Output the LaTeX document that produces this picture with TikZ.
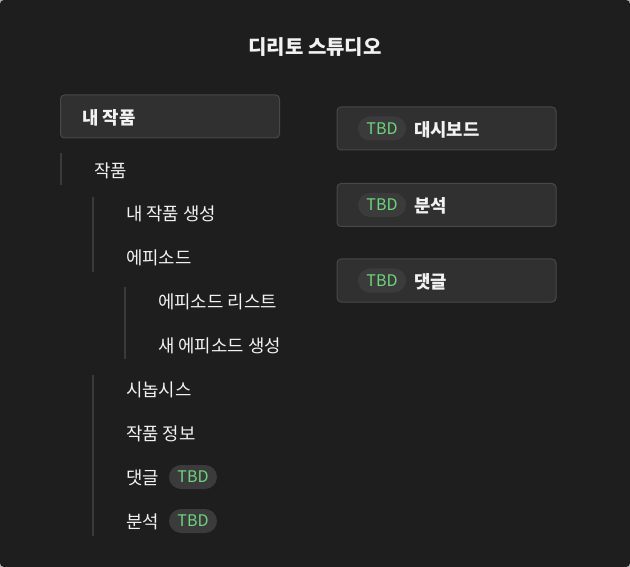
\documentclass[tikz,border=0pt]{standalone}
\usepackage{fontspec}
\setmainfont{Noto Sans CJK KR}
\definecolor{bgdark}{HTML}{1E1E1E}
\definecolor{boxfill}{HTML}{303030}
\definecolor{boxline}{HTML}{484848}
\definecolor{pillfill}{HTML}{3B3B3B}
\definecolor{tbdgreen}{HTML}{6CD67C}
\definecolor{treeline}{HTML}{3A3A3A}
\definecolor{textwhite}{HTML}{F2F2F2}

\begin{document}
\begin{tikzpicture}[x=1pt, y=-1pt,
    menubox/.style={draw=boxline, fill=boxfill, rounded corners=4pt, line width=1pt, minimum height=43pt},
    item/.style={anchor=west, text=textwhite, inner sep=0pt, font=\fontsize{17.8}{18}\selectfont},
    headitem/.style={item, font=\fontsize{17.8}{18}\selectfont\bfseries},
    tbd/.style={fill=pillfill, rounded corners=12pt, minimum width=48pt, minimum height=24pt, inner sep=0pt, text=tbdgreen, font=\fontsize{16}{16}\selectfont},
    guide/.style={draw=treeline, line width=1.3pt}]
    \useasboundingbox (0,0) rectangle (630,567);
    \fill[gray!60] (0,0) rectangle (630,567);
    \fill[bgdark, rounded corners=4pt] (0,0) rectangle (630,567);
    % title
    \node[text=textwhite, font=\fontsize{20}{20}\selectfont\bfseries] (title) at (315,47.5) {디리토 스튜디오};
    % left menu
    \node[menubox, minimum width=219pt] (mywork) at (170,116.5) {};
    \node[headitem] (myworktxt) at (82,117.5) {내 작품};
    \draw[guide] (61,153) -- (61,185);
    \node[item] (works) at (94,170.5) {작품};
    \draw[guide] (93,197) -- (93,272);
    \node[item] (newwork) at (126,214) {내 작품 생성};
    \node[item] (episode) at (126,258) {에피소드};
    \draw[guide] (125,287) -- (125,359);
    \node[item] (eplist) at (158,302) {에피소드 리스트};
    \node[item] (epnew) at (158,346) {새 에피소드 생성};
    \draw[guide] (93,375) -- (93,536);
    \node[item] (synopsis) at (126,390) {시놉시스};
    \node[item] (workinfo) at (126,434) {작품 정보};
    \node[item] (comment) at (126,478) {댓글};
    \node[tbd] (commenttbd) at (193,477) {TBD};
    \node[item] (analysis) at (126,522) {분석};
    \node[tbd] (analysistbd) at (193,521) {TBD};
    % right menu
    \foreach \y/\name/\txt in {128.5/dash/대시보드, 205/stat/분석, 280.5/reply/댓글} {
        \node[menubox, minimum width=219pt] (\name box) at (446.5,\y) {};
        \node[tbd] (\name tbd) at (382,\y) {TBD};
        \node[headitem] (\name txt) at (414,\y+1) {\txt};
    }
\end{tikzpicture}
\end{document}
